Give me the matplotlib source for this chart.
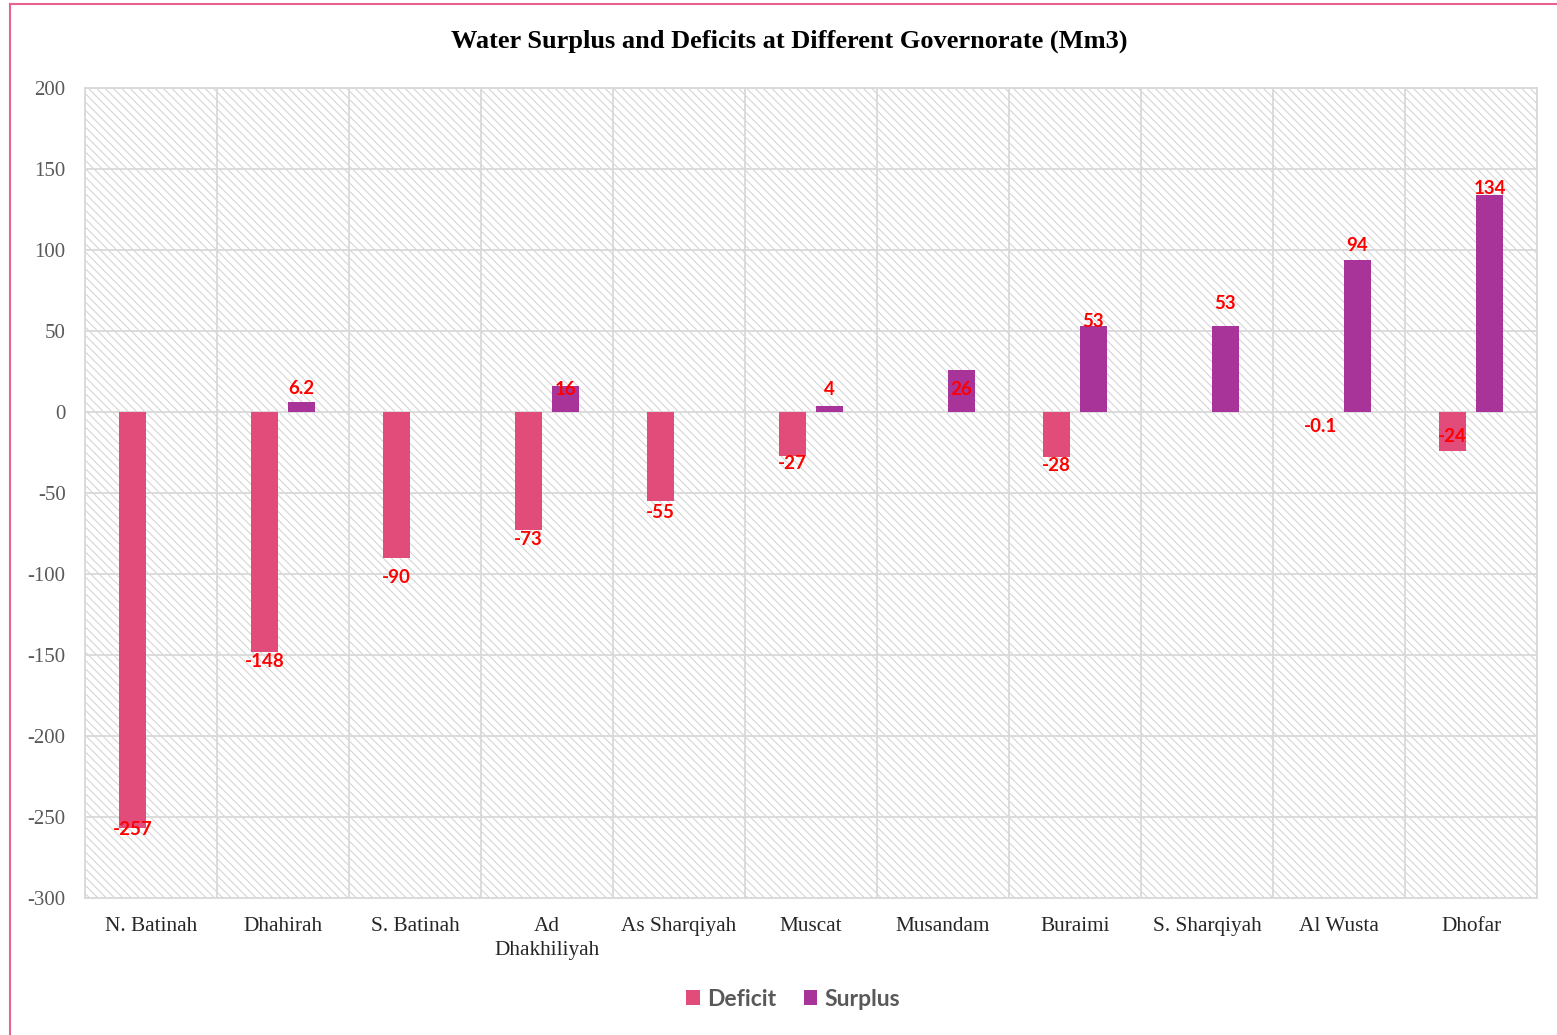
import numpy as np
import matplotlib
matplotlib.use("Agg")
import matplotlib.pyplot as plt
from matplotlib.patches import Rectangle
from matplotlib.lines import Line2D

# data
governorates = ["N. Batinah", "Dhahirah", "S. Batinah", "Ad\nDhakhiliyah", "As Sharqiyah",
                "Muscat", "Musandam", "Buraimi", "S. Sharqiyah", "Al Wusta", "Dhofar"]
deficit = [-257, -148, -90, -73, -55, -27, np.nan, -28, np.nan, -0.1, -24]
surplus = [np.nan, 6.2, np.nan, 16, np.nan, 4, 26, 53, 53, 94, 134]
deficit_text = ["-257", "-148", "-90", "-73", "-55", "-27", "", "-28", "", "-0.1", "-24"]
surplus_text = ["", "6.2", "", "16", "", "4", "26", "53", "53", "94", "134"]
# label nudges (data units) as Excel placed them by hand
deficit_nudge = [-1, -6, -12, -6, -7, -4.5, 0, -5, 0, -9, 9]
surplus_nudge = [0, 8, 0, -2, 0, 10, -12, 2.6, 14, 9, 4]
yticks = [-300, -250, -200, -150, -100, -50, 0, 50, 100, 150, 200]

DEF_COL = "#E24C7B"
SUR_COL = "#A83399"
GRID = "#D9D9D9"

plt.rcParams["hatch.linewidth"] = 0.7
plt.rcParams["hatch.color"] = "#D0D0D0"

fig = plt.figure(figsize=(15.57, 10.35), dpi=100)
ax = fig.add_axes([85 / 1557, 1 - 898 / 1035, (1537 - 85) / 1557, (898 - 88) / 1035])

x = np.arange(len(governorates))
w = 0.2
off = 0.14

# hatched plot area
ax.add_patch(Rectangle((0, 0), 1, 1, transform=ax.transAxes, facecolor="white",
                       hatch="\\\\\\\\", edgecolor="#D0D0D0", linewidth=0, zorder=0))

ax.bar(x - off, deficit, w, color=DEF_COL, linewidth=0, zorder=3, label="Deficit")
ax.bar(x + off, surplus, w, color=SUR_COL, linewidth=0, zorder=3, label="Surplus")

lab_font = dict(family=["Lato", "DejaVu Sans"], fontsize=13.5, fontweight="bold", color="#FF0000")
for i in range(len(governorates)):
    if deficit_text[i]:
        ax.text(x[i] - off, deficit[i] + deficit_nudge[i], deficit_text[i],
                ha="center", va="center", zorder=5, **lab_font)
    if surplus_text[i]:
        ax.text(x[i] + off, surplus[i] + surplus_nudge[i], surplus_text[i],
                ha="center", va="center", zorder=5, **lab_font)

ax.set_xlim(-0.5, len(governorates) - 0.5)
ax.set_ylim(-300, 200)
ax.set_yticks(yticks)
ax.set_yticklabels([str(t) for t in yticks], family="Liberation Serif", fontsize=15, color="#595959")
ax.set_xticks(x)
ax.set_xticklabels(governorates, family="Liberation Serif", fontsize=15.3, color="#262626",
                   linespacing=1.35, va="top")
ax.set_xticks(np.arange(len(governorates) + 1) - 0.5, minor=True)
ax.tick_params(axis="both", which="both", length=0)
ax.tick_params(axis="x", pad=14)
ax.tick_params(axis="y", pad=14)
ax.grid(True, axis="y", which="major", color=GRID, linewidth=1.3, zorder=1)
ax.grid(True, axis="x", which="minor", color=GRID, linewidth=1.3, zorder=1)
ax.set_axisbelow(True)
for s in ax.spines.values():
    s.set_color(GRID)
    s.set_linewidth(1.3)

fig.text(789 / 1557, 1 - 41 / 1035, "Water Surplus and Deficits at Different Governorate (Mm3)",
         ha="center", va="center", family="Liberation Serif", fontsize=19, fontweight="bold")

leg = fig.legend(loc="center", bbox_to_anchor=(793 / 1557, 1 - 999 / 1035), ncol=2, frameon=False,
                 prop=dict(family=["Lato", "DejaVu Sans"], size=16.5, weight="bold"),
                 handlelength=0.6, handleheight=0.6, handletextpad=0.3, columnspacing=1.2)
for t in leg.get_texts():
    t.set_color("#595959")

# pink outer frame (right and bottom edges are cut off in the original)
fig.add_artist(Line2D([10 / 1557, 10 / 1557], [0, 1 - 4 / 1035], color="#E8628F", linewidth=1.5))
fig.add_artist(Line2D([10 / 1557, 1], [1 - 4 / 1035, 1 - 4 / 1035], color="#E8628F", linewidth=1.5))

fig.savefig("out.png", dpi=100, facecolor="white")
